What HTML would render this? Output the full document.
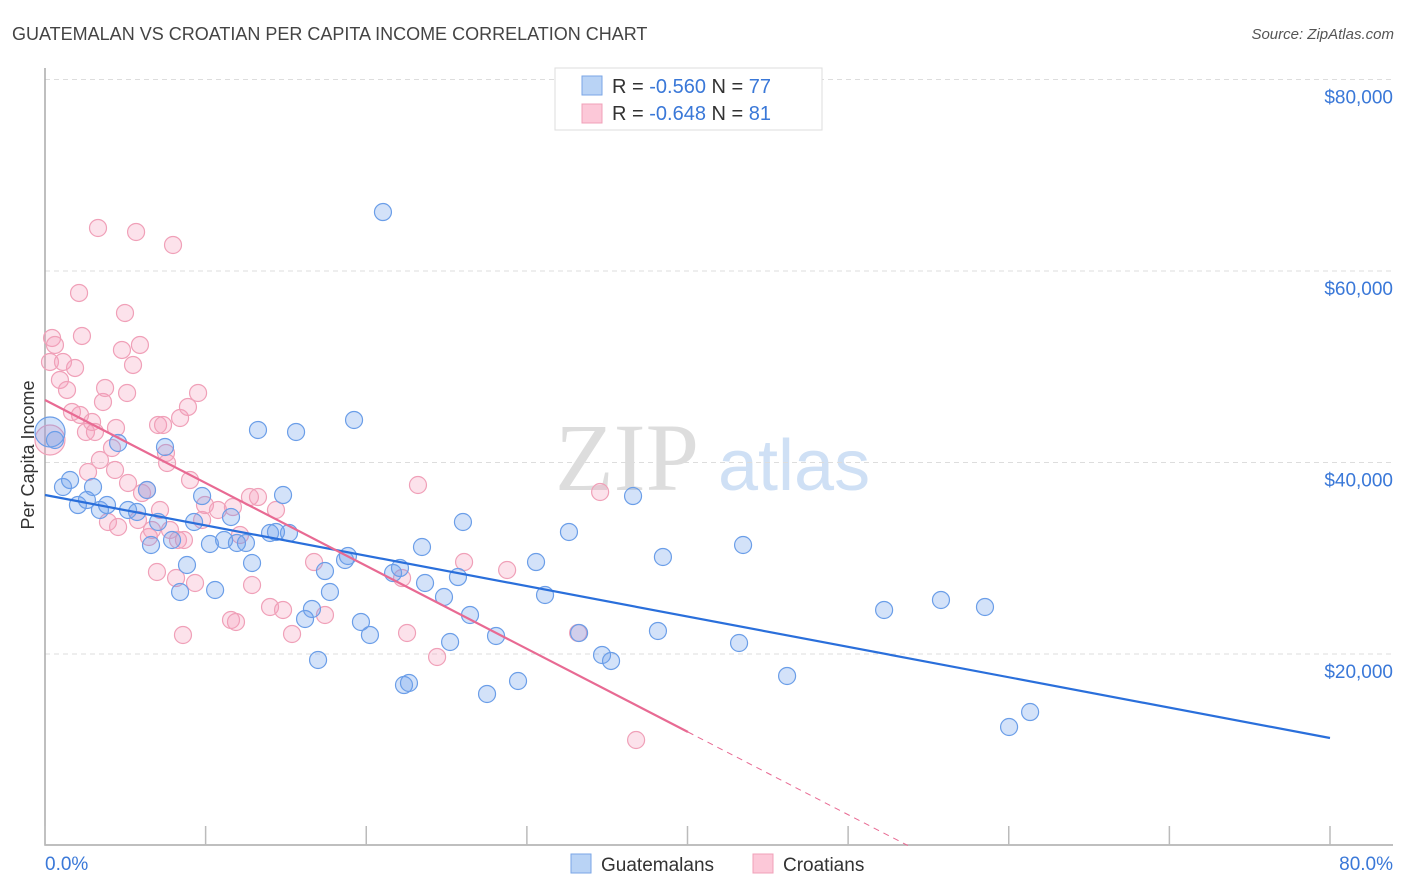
<!DOCTYPE html>
<html><head><meta charset="utf-8"><style>
body{margin:0;background:#fff;font-family:"Liberation Sans",sans-serif;}
</style></head><body>
<svg id="chart" width="1406" height="892" xmlns="http://www.w3.org/2000/svg" style="display:block">
<text x="12" y="40" font-size="18" fill="#444">GUATEMALAN VS CROATIAN PER CAPITA INCOME CORRELATION CHART</text>
<text x="1394" y="39" font-size="15" fill="#555" font-style="italic" text-anchor="end">Source: ZipAtlas.com</text>
<text transform="translate(34,455) rotate(-90)" font-size="18" fill="#333" text-anchor="middle">Per Capita Income</text>
<g>
<text x="555" y="490" font-size="96" font-family="Liberation Serif,serif" fill="#ddd">ZIP</text>
<text x="718" y="490" font-size="72" fill="#cfe0f5">atlas</text>
</g>
<g id="grid"></g><g id="axes"></g><g id="marks"></g><g id="lines"></g>
<g>
<rect x="555" y="68" width="267" height="62" fill="#fff" stroke="#ddd"/>
<rect x="582" y="76" width="20" height="19" fill="#b9d3f5" stroke="#7aa6e6"/>
<rect x="582" y="104" width="20" height="19" fill="#fcc8d8" stroke="#f0a0b8"/>
<text x="612" y="93" font-size="20" fill="#333">R = <tspan fill="#3a78d8">-0.560</tspan>   N = <tspan fill="#3a78d8">77</tspan></text>
<text x="612" y="120" font-size="20" fill="#333">R = <tspan fill="#3a78d8">-0.648</tspan>   N = <tspan fill="#3a78d8"> 81</tspan></text>
</g>
<g>
<rect x="571" y="854" width="20" height="19" fill="#b9d3f5" stroke="#7aa6e6"/>
<text x="601" y="871" font-size="19" fill="#333">Guatemalans</text>
<rect x="753" y="854" width="20" height="19" fill="#fcc8d8" stroke="#f0a0b8"/>
<text x="783" y="871" font-size="19" fill="#333">Croatians</text>
</g>
</svg>
<script>
const yTicks=[20000,40000,60000,80000];
const yTickLabels=["$20,000","$40,000","$60,000","$80,000"];
const xTicks=[0,10,20,30,40,50,60,70,80];
const blueX=[0.31,0.62,1.12,1.56,2.05,2.61,2.99,3.42,3.86,4.55,5.17,5.73,6.35,6.60,7.04,7.47,7.91,8.41,8.84,9.28,9.78,10.27,10.59,11.15,11.58,11.95,12.51,12.89,13.26,14.01,14.38,14.82,15.19,15.63,16.19,16.62,17.00,17.43,17.74,18.68,18.86,19.24,19.67,20.23,21.04,21.67,22.10,22.35,22.66,23.47,23.66,24.84,25.22,25.71,26.02,26.46,27.52,28.08,29.45,30.57,31.13,32.62,33.25,34.68,35.24,36.61,38.16,38.47,43.21,43.46,46.20,52.24,55.78,58.52,60.02,61.33];
const blueY=[43186,42350,37441,38172,35561,36083,37441,35039,35561,42037,35039,34830,37128,31384,33786,41619,31906,26475,29295,33786,36501,31488,26684,31906,34308,31593,31593,29504,43395,32637,32742,36605,32637,43186,23657,24701,19375,28668,26475,29817,30235,44439,23344,21986,66158,28459,28981,16762,16971,31175,27415,25953,21253,28041,33786,24074,15824,21882,17180,29608,26162,32742,22195,19898,19272,36501,22404,30131,21149,31384,17703,24596,25640,24909,12376,13942];
const pinkX=[0.31,0.44,0.62,0.31,0.93,1.12,1.37,1.68,1.87,2.12,2.18,2.30,2.55,2.68,2.93,3.11,3.30,3.42,3.61,3.74,3.92,4.17,4.36,4.42,4.55,4.79,4.98,5.11,5.17,5.48,5.67,5.79,5.91,6.04,6.35,6.47,6.66,6.97,7.16,7.04,7.35,7.53,7.60,7.78,7.97,8.16,8.28,8.41,8.59,8.65,8.90,9.03,9.34,9.53,9.78,9.96,10.77,11.58,11.70,11.89,12.14,12.76,12.89,13.26,14.01,14.38,14.82,15.38,16.75,17.43,22.23,22.54,23.22,24.41,26.09,28.77,33.19,34.56,36.80];
const pinkY=[42350,53006,52275,50499,48619,50499,47575,45277,49872,57705,44964,53215,43186,39008,44230,43186,64492,40261,46320,47782,33786,41515,39217,43604,33264,51752,55616,47260,37859,50186,64074,33995,52275,36814,37128,32220,32951,28564,35039,43917,43917,40993,39948,32951,62716,27937,31906,44648,21986,31906,45799,38172,27415,47260,33995,35561,35039,23553,35352,23344,32429,36396,27206,36396,24910,35039,24596,22090,29608,24074,27937,22195,37650,19689,29608,28773,22195,36919,11018];
const bigBlue=[0]; const bigPink=[0];
const blueTrend=[36606,11227];
const pinkTrend=[46528,11854,40.03];
const NS="http://www.w3.org/2000/svg";
const X=v=>45+v/80*1285, Y=v=>845.5-v/20000*191.5;
function mk(tag,attrs,parent){const e=document.createElementNS(NS,tag);for(const k in attrs)e.setAttribute(k,attrs[k]);parent.appendChild(e);return e;}
const grid=document.getElementById('grid'),axes=document.getElementById('axes'),marks=document.getElementById('marks'),lines=document.getElementById('lines');
yTicks.forEach((t,i)=>{
 const l=mk('line',{x1:45,x2:1393,y1:Y(t),y2:Y(t),stroke:'#ddd','stroke-dasharray':'5,4'},grid);
 
 
 const tx=mk('text',{x:1393,y:Y(t)+24,'font-size':19,fill:'#3a78d8','text-anchor':'end'},axes);
 tx.textContent=yTickLabels[i];
 
 
});
const ax=mk('path',{d:'M45,68V845H1393',fill:'none',stroke:'#aaa','stroke-width':1.5},axes);


xTicks.forEach(t=>{
 const l=mk('line',{x1:X(t),x2:X(t),y1:826,y2:845,stroke:'#bbb','stroke-width':1.5},axes);
 
 
});
const x0=mk('text',{x:45,y:870,'font-size':19,fill:'#3a78d8'},axes);x0.textContent='0.0%';


const x1=mk('text',{x:1393,y:870,'font-size':19,fill:'#3a78d8','text-anchor':'end'},axes);x1.textContent='80.0%';


function dots(xs,ys,big,fill,stroke,name){xs.forEach((x,i)=>{
 const c=mk('circle',{cx:X(x),cy:Y(ys[i]),r:big.includes(i)?15:8.5,fill:fill,stroke:stroke,'stroke-width':1.2},marks);
 
 
});}
dots(pinkX,pinkY,bigPink,'rgba(245,160,190,0.3)','#f0a0b8','croatian-point');
dots(blueX,blueY,bigBlue,'rgba(110,160,235,0.3)','#6b9ee8','guatemalan-point');
const bl=mk('line',{x1:X(0),y1:Y(blueTrend[0]),x2:X(80),y2:Y(blueTrend[1]),stroke:'#2a6fdb','stroke-width':2.2},lines);


const slope=(pinkTrend[1]-pinkTrend[0])/pinkTrend[2];
const xEnd=-pinkTrend[0]/slope;
const pl=mk('line',{x1:X(0),y1:Y(pinkTrend[0]),x2:X(pinkTrend[2]),y2:Y(pinkTrend[1]),stroke:'#e86a93','stroke-width':2.2},lines);


const pd=mk('line',{x1:X(pinkTrend[2]),y1:Y(pinkTrend[1]),x2:X(xEnd),y2:Y(0),stroke:'#e86a93','stroke-width':1,'stroke-dasharray':'6,5'},lines);


</script>
</body></html>
